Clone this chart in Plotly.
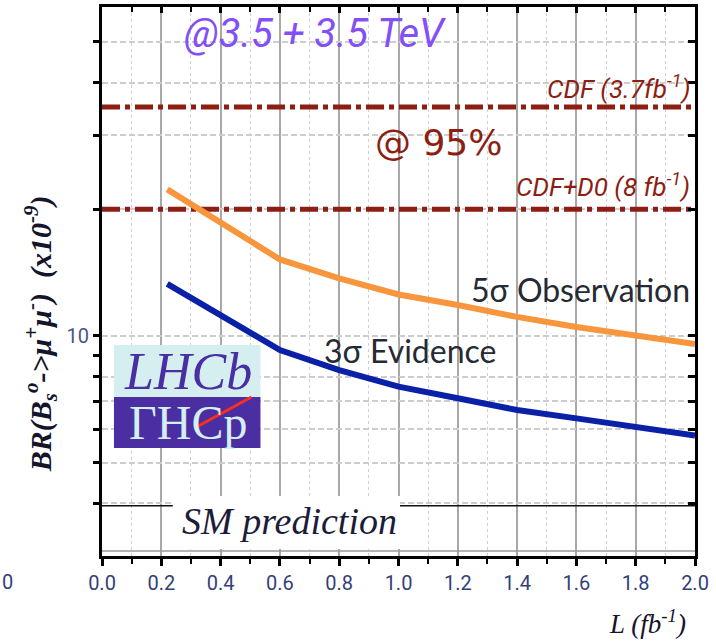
import plotly.graph_objects as go

# Integrated luminosity (fb^-1) and the branching ratio (x10^-9) reachable
# for a 5 sigma observation and a 3 sigma evidence at 3.5 + 3.5 TeV
lumi = [0.22, 0.6, 0.8, 1.0, 1.2, 1.4, 1.6, 1.8, 2.0]
br_observation = [22.3, 15.2, 13.7, 12.55, 11.85, 11.1, 10.5, 10.0, 9.57]
br_evidence = [13.3, 9.26, 8.3, 7.58, 7.11, 6.67, 6.37, 6.09, 5.8]

# Tevatron 95% CL upper limits and Standard Model expectation (x10^-9)
cdf_limit = 35.0
cdf_d0_limit = 20.0
sm_value = 3.95
lumi_span = [0.0, 2.0]

x_major = [0.0, 0.2, 0.4, 0.6, 0.8, 1.0, 1.2, 1.4, 1.6, 1.8, 2.0]
x_labels = ["0.0", "0.2", "0.4", "0.6", "0.8", "1.0", "1.2", "1.4", "1.6", "1.8", "2.0"]
y_ticks = [4, 5, 6, 7, 8, 9, 10, 20, 30, 40, 50]
y_labels = ["", "", "", "", "", "", "10", "", "", "", ""]
y_grid = [4, 5, 6, 7, 8, 10, 20, 30, 40, 50]
y_range_log = [0.47712, 1.78176]

# page geometry (pixels) of the plotting frame
W, H = 716, 641
L, R, T, B = 102, 697, 7, 556


def px(x):
    return (x - L) / (R - L)


def py(y):
    return (B - y) / (B - T)


DARK_RED = "#8c1e14"
ORANGE = "#f7963c"
BLUE = "#0a20a6"
TEXT = "#262a33"
TICK = "#33407a"

fig = go.Figure()

dash_dot = "18px,5px,5px,5px"
fig.add_trace(go.Scatter(x=lumi_span, y=[cdf_limit, cdf_limit], mode="lines",
                         line=dict(color=DARK_RED, width=5, dash=dash_dot),
                         hoverinfo="skip", showlegend=False))
fig.add_trace(go.Scatter(x=lumi_span, y=[cdf_d0_limit, cdf_d0_limit], mode="lines",
                         line=dict(color=DARK_RED, width=5, dash=dash_dot),
                         hoverinfo="skip", showlegend=False))
fig.add_trace(go.Scatter(x=lumi, y=br_observation, mode="lines",
                         line=dict(color=ORANGE, width=6), showlegend=False))
fig.add_trace(go.Scatter(x=lumi, y=br_evidence, mode="lines",
                         line=dict(color=BLUE, width=6), showlegend=False))
fig.add_trace(go.Scatter(x=lumi_span, y=[sm_value, sm_value], mode="lines",
                         line=dict(color="#111111", width=1.5),
                         xaxis="x2", yaxis="y2", hoverinfo="skip", showlegend=False))
# grid-only companion axis
fig.add_trace(go.Scatter(x=lumi_span, y=[sm_value, sm_value], mode="lines",
                         line=dict(color="rgba(0,0,0,0)", width=0),
                         xaxis="x", yaxis="y3", hoverinfo="skip", showlegend=False))

axis_line = dict(showline=True, linecolor="black", linewidth=3)
NARROW = "Liberation Sans Narrow, Roboto, Liberation Sans, Arial"

fig.update_layout(
    width=W, height=H,
    margin=dict(l=L, r=W - R, t=T, b=H - B),
    paper_bgcolor="white", plot_bgcolor="white",
    showlegend=False,
    xaxis=dict(range=[0, 2], tickvals=x_major, ticktext=x_labels,
               ticks="outside", ticklen=7, tickwidth=3, tickcolor="black",
               tickfont=dict(family=NARROW, size=20, color=TICK),
               showgrid=True, gridcolor="#a8a8a8", gridwidth=1.5,
               minor=dict(dtick=0.1, ticks="outside", ticklen=5, tickwidth=2, tickcolor="black",
                          showgrid=True, gridcolor="#cfcfcf", griddash="dot", gridwidth=1),
               zeroline=False, **axis_line),
    xaxis2=dict(range=[0, 2], overlaying="x", side="top", tickvals=x_major,
                ticks="inside", ticklen=6, tickwidth=3, tickcolor="black",
                showticklabels=False, showgrid=False, zeroline=False,
                minor=dict(dtick=0.1, ticks="inside", ticklen=5, tickwidth=2, tickcolor="black"),
                **axis_line),
    yaxis=dict(type="log", range=y_range_log, tickvals=y_ticks, ticktext=y_labels,
               ticks="outside", ticklen=6, tickwidth=3, tickcolor="black",
               tickfont=dict(family=NARROW, size=20, color="#4a5686"),
               showgrid=False, zeroline=False, **axis_line),
    yaxis2=dict(type="log", range=y_range_log, overlaying="y", side="right",
                tickvals=y_ticks, ticks="inside", ticklen=7, tickwidth=3, tickcolor="black",
                showticklabels=False, showgrid=False, zeroline=False, **axis_line),
    yaxis3=dict(type="log", range=y_range_log, overlaying="y", tickvals=y_grid,
                showticklabels=False, ticks="", showline=False, zeroline=False,
                showgrid=True, gridcolor="#cdcdcd", gridwidth=1.5, griddash="6px,3px"),
)

shapes = []


def white_box(x0, y0, x1, y1, layer="between"):
    shapes.append(dict(type="rect", xref="paper", yref="paper",
                       x0=px(x0), x1=px(x1), y0=py(y1), y1=py(y0),
                       fillcolor="white", line=dict(width=0), layer=layer))


white_box(163, 7, 460, 66)      # title
white_box(376, 113, 505, 169)   # @ 95%
white_box(540, 72, 697, 104)    # CDF
white_box(512, 166, 697, 207)   # CDF + D0
white_box(465, 271, 697, 303)   # 5 sigma
white_box(322, 326, 500, 366)   # 3 sigma
white_box(173, 496, 401, 549, layer="above")  # SM prediction

# faint double rule along the bottom frame
shapes.append(dict(type="line", xref="paper", yref="paper", x0=0, x1=1, y0=py(551), y1=py(551),
                   line=dict(color="#9a9a9a", width=1.5), layer="above"))

# LHCb logo
shapes.append(dict(type="rect", xref="paper", yref="paper", x0=px(114), x1=px(261),
                   y0=py(397), y1=py(345), fillcolor="#d5eef0", line=dict(width=0), layer="above"))
shapes.append(dict(type="rect", xref="paper", yref="paper", x0=px(114), x1=px(261),
                   y0=py(448), y1=py(397), fillcolor="#4a2ea2", line=dict(width=0), layer="above"))
shapes.append(dict(type="line", xref="paper", yref="paper", x0=px(195), x1=px(252),
                   y0=py(428), y1=py(397), line=dict(color="#ff2d1c", width=3), layer="above"))
fig.update_layout(shapes=shapes)


def note(text, x, y, size, color, family, xanchor="center", yanchor="middle", angle=0, **kw):
    fig.add_annotation(text=text, xref="paper", yref="paper", x=px(x), y=py(y),
                       xanchor=xanchor, yanchor=yanchor, showarrow=False, textangle=angle,
                       font=dict(size=size, color=color, family=family), **kw)


HAND = "Liberation Sans Narrow, Roboto, DejaVu Sans"
note("<i>@3.5 + 3.5 TeV</i>", 316, 33, 40, "#8250f5", HAND)
note("@ 95%", 440, 142, 36, DARK_RED, "DejaVu Sans")
note("<i>CDF (3.7fb<sup>-1</sup>)</i>", 694, 87, 26, DARK_RED, HAND, xanchor="right")
note("<i>CDF+D0 (8 fb<sup>-1</sup>)</i>", 694, 185, 26, DARK_RED, HAND, xanchor="right")
note("5σ Observation", 694, 289, 32, TEXT, "Lato", xanchor="right")
note("3σ Evidence", 411, 350, 32, TEXT, "Lato")
note("<i>SM prediction</i>", 290, 521, 38, "#1c1c3a", "Liberation Serif")
note("<i>LHCb</i>", 188, 371, 52, "#4a2ea2", "Liberation Serif")
note("ΓHCp", 188, 422, 48, "#d5eef0", "Liberation Serif")
note("<b><i>BR(B<sub>s</sub><sup>o</sup>->μ<sup>+</sup>μ<sup>-</sup>)  (x10<sup>-9</sup>)</i></b>",
     40, 334, 30, "#14142a", "Liberation Serif", angle=-90)
note("<i>L (fb<sup>-1</sup>)</i>", 690, 622, 27, "#14142a", "Liberation Serif", xanchor="right")
note("0", 0, 582, 20, TICK, NARROW, xanchor="left")

fig.write_html("out.html")
